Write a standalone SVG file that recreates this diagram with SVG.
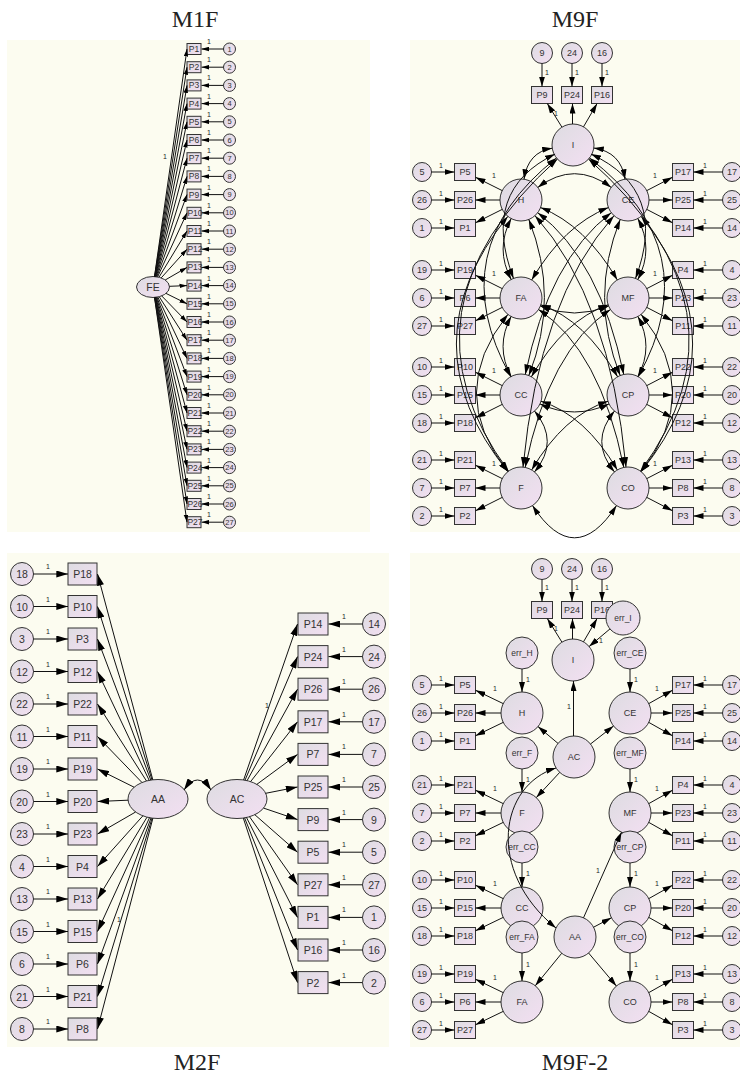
<svg xmlns="http://www.w3.org/2000/svg" width="740" height="1076" viewBox="0 0 740 1076">
<defs>
<linearGradient id="g" x1="0" y1="0" x2="1" y2="1"><stop offset="0" stop-color="#dddce1"/><stop offset="1" stop-color="#f3dff2"/></linearGradient>
<marker id="as" viewBox="0 0 10 6" refX="10" refY="3" markerWidth="7.5" markerHeight="5" markerUnits="userSpaceOnUse" orient="auto-start-reverse"><path d="M0,0L10,3L0,6z" fill="#000"/></marker>
<marker id="am" viewBox="0 0 10 6" refX="10" refY="3" markerWidth="10" markerHeight="6" markerUnits="userSpaceOnUse" orient="auto-start-reverse"><path d="M0,0L10,3L0,6z" fill="#000"/></marker>
<marker id="ab" viewBox="0 0 10 6" refX="10" refY="3" markerWidth="12" markerHeight="7" markerUnits="userSpaceOnUse" orient="auto-start-reverse"><path d="M0,0L10,3L0,6z" fill="#000"/></marker>
</defs>
<style>
.bg{fill:#fcfcf0}
.n{fill:url(#g);stroke:#333;stroke-width:1}
.t{font-family:"Liberation Sans",Arial,sans-serif;fill:#333;text-anchor:middle;dominant-baseline:central}
.f1{font-size:8.5px}.f1c{font-size:7.5px}.f9{font-size:9px}.fe{font-size:8.5px}.f2{font-size:10.5px}
.ttl{font-family:"Liberation Serif","Times New Roman",serif;font-size:24px;fill:#222;text-anchor:middle}
.o{font-family:"Liberation Sans",Arial,sans-serif;font-size:7px;fill:#222;text-anchor:middle}
.l{stroke:#111;stroke-width:1;fill:none}
.a1{marker-end:url(#as)}.a9{marker-end:url(#am)}.c9{marker-start:url(#am);marker-end:url(#am)}.a2{marker-end:url(#ab)}.c2{marker-start:url(#ab);marker-end:url(#ab)}
</style>
<g id="backgrounds">
<rect class="bg" x="7" y="40" width="363" height="492"/>
<rect class="bg" x="410" y="40" width="330" height="492"/>
<rect class="bg" x="7" y="553" width="382" height="494"/>
<rect class="bg" x="410" y="553" width="330" height="494"/>
</g>
<g id="titles">
<text class="ttl" x="195" y="27">M1F</text>
<text class="ttl" x="575" y="27">M9F</text>
<text class="ttl" x="197" y="1070">M2F</text>
<text class="ttl" x="575" y="1070">M9F-2</text>
</g>

<g id="m1-nodes">
<g id="m1-FE"><ellipse class="n" cx="153" cy="287" rx="16.5" ry="10.5"/><text class="t f2" x="153" y="287">FE</text></g>
<g id="m1-P1"><rect class="n" x="187" y="43.5" width="14" height="11"/><text class="t f1" x="194" y="49">P1</text></g>
<g id="m1-P2"><rect class="n" x="187" y="61.7" width="14" height="11"/><text class="t f1" x="194" y="67.2">P2</text></g>
<g id="m1-P3"><rect class="n" x="187" y="79.9" width="14" height="11"/><text class="t f1" x="194" y="85.4">P3</text></g>
<g id="m1-P4"><rect class="n" x="187" y="98.1" width="14" height="11"/><text class="t f1" x="194" y="103.6">P4</text></g>
<g id="m1-P5"><rect class="n" x="187" y="116.3" width="14" height="11"/><text class="t f1" x="194" y="121.8">P5</text></g>
<g id="m1-P6"><rect class="n" x="187" y="134.5" width="14" height="11"/><text class="t f1" x="194" y="140">P6</text></g>
<g id="m1-P7"><rect class="n" x="187" y="152.7" width="14" height="11"/><text class="t f1" x="194" y="158.2">P7</text></g>
<g id="m1-P8"><rect class="n" x="187" y="170.9" width="14" height="11"/><text class="t f1" x="194" y="176.4">P8</text></g>
<g id="m1-P9"><rect class="n" x="187" y="189.1" width="14" height="11"/><text class="t f1" x="194" y="194.6">P9</text></g>
<g id="m1-P10"><rect class="n" x="187" y="207.3" width="14" height="11"/><text class="t f1" x="195" y="212.8">P10</text></g>
<g id="m1-P11"><rect class="n" x="187" y="225.5" width="14" height="11"/><text class="t f1" x="195" y="231">P11</text></g>
<g id="m1-P12"><rect class="n" x="187" y="243.7" width="14" height="11"/><text class="t f1" x="195" y="249.2">P12</text></g>
<g id="m1-P13"><rect class="n" x="187" y="261.9" width="14" height="11"/><text class="t f1" x="195" y="267.4">P13</text></g>
<g id="m1-P14"><rect class="n" x="187" y="280.1" width="14" height="11"/><text class="t f1" x="195" y="285.6">P14</text></g>
<g id="m1-P15"><rect class="n" x="187" y="298.3" width="14" height="11"/><text class="t f1" x="195" y="303.8">P15</text></g>
<g id="m1-P16"><rect class="n" x="187" y="316.5" width="14" height="11"/><text class="t f1" x="195" y="322">P16</text></g>
<g id="m1-P17"><rect class="n" x="187" y="334.7" width="14" height="11"/><text class="t f1" x="195" y="340.2">P17</text></g>
<g id="m1-P18"><rect class="n" x="187" y="352.9" width="14" height="11"/><text class="t f1" x="195" y="358.4">P18</text></g>
<g id="m1-P19"><rect class="n" x="187" y="371.1" width="14" height="11"/><text class="t f1" x="195" y="376.6">P19</text></g>
<g id="m1-P20"><rect class="n" x="187" y="389.3" width="14" height="11"/><text class="t f1" x="195" y="394.8">P20</text></g>
<g id="m1-P21"><rect class="n" x="187" y="407.5" width="14" height="11"/><text class="t f1" x="195" y="413">P21</text></g>
<g id="m1-P22"><rect class="n" x="187" y="425.7" width="14" height="11"/><text class="t f1" x="195" y="431.2">P22</text></g>
<g id="m1-P23"><rect class="n" x="187" y="443.9" width="14" height="11"/><text class="t f1" x="195" y="449.4">P23</text></g>
<g id="m1-P24"><rect class="n" x="187" y="462.1" width="14" height="11"/><text class="t f1" x="195" y="467.6">P24</text></g>
<g id="m1-P25"><rect class="n" x="187" y="480.3" width="14" height="11"/><text class="t f1" x="195" y="485.8">P25</text></g>
<g id="m1-P26"><rect class="n" x="187" y="498.5" width="14" height="11"/><text class="t f1" x="195" y="504">P26</text></g>
<g id="m1-P27"><rect class="n" x="187" y="516.7" width="14" height="11"/><text class="t f1" x="195" y="522.2">P27</text></g>
<g id="m1-e1"><circle class="n" cx="229.5" cy="49" r="6"/><text class="t f1c" x="229.5" y="49">1</text></g>
<g id="m1-e2"><circle class="n" cx="229.5" cy="67.2" r="6"/><text class="t f1c" x="229.5" y="67.2">2</text></g>
<g id="m1-e3"><circle class="n" cx="229.5" cy="85.4" r="6"/><text class="t f1c" x="229.5" y="85.4">3</text></g>
<g id="m1-e4"><circle class="n" cx="229.5" cy="103.6" r="6"/><text class="t f1c" x="229.5" y="103.6">4</text></g>
<g id="m1-e5"><circle class="n" cx="229.5" cy="121.8" r="6"/><text class="t f1c" x="229.5" y="121.8">5</text></g>
<g id="m1-e6"><circle class="n" cx="229.5" cy="140" r="6"/><text class="t f1c" x="229.5" y="140">6</text></g>
<g id="m1-e7"><circle class="n" cx="229.5" cy="158.2" r="6"/><text class="t f1c" x="229.5" y="158.2">7</text></g>
<g id="m1-e8"><circle class="n" cx="229.5" cy="176.4" r="6"/><text class="t f1c" x="229.5" y="176.4">8</text></g>
<g id="m1-e9"><circle class="n" cx="229.5" cy="194.6" r="6"/><text class="t f1c" x="229.5" y="194.6">9</text></g>
<g id="m1-e10"><circle class="n" cx="229.5" cy="212.8" r="6"/><text class="t f1c" x="229.5" y="212.8">10</text></g>
<g id="m1-e11"><circle class="n" cx="229.5" cy="231" r="6"/><text class="t f1c" x="229.5" y="231">11</text></g>
<g id="m1-e12"><circle class="n" cx="229.5" cy="249.2" r="6"/><text class="t f1c" x="229.5" y="249.2">12</text></g>
<g id="m1-e13"><circle class="n" cx="229.5" cy="267.4" r="6"/><text class="t f1c" x="229.5" y="267.4">13</text></g>
<g id="m1-e14"><circle class="n" cx="229.5" cy="285.6" r="6"/><text class="t f1c" x="229.5" y="285.6">14</text></g>
<g id="m1-e15"><circle class="n" cx="229.5" cy="303.8" r="6"/><text class="t f1c" x="229.5" y="303.8">15</text></g>
<g id="m1-e16"><circle class="n" cx="229.5" cy="322" r="6"/><text class="t f1c" x="229.5" y="322">16</text></g>
<g id="m1-e17"><circle class="n" cx="229.5" cy="340.2" r="6"/><text class="t f1c" x="229.5" y="340.2">17</text></g>
<g id="m1-e18"><circle class="n" cx="229.5" cy="358.4" r="6"/><text class="t f1c" x="229.5" y="358.4">18</text></g>
<g id="m1-e19"><circle class="n" cx="229.5" cy="376.6" r="6"/><text class="t f1c" x="229.5" y="376.6">19</text></g>
<g id="m1-e20"><circle class="n" cx="229.5" cy="394.8" r="6"/><text class="t f1c" x="229.5" y="394.8">20</text></g>
<g id="m1-e21"><circle class="n" cx="229.5" cy="413" r="6"/><text class="t f1c" x="229.5" y="413">21</text></g>
<g id="m1-e22"><circle class="n" cx="229.5" cy="431.2" r="6"/><text class="t f1c" x="229.5" y="431.2">22</text></g>
<g id="m1-e23"><circle class="n" cx="229.5" cy="449.4" r="6"/><text class="t f1c" x="229.5" y="449.4">23</text></g>
<g id="m1-e24"><circle class="n" cx="229.5" cy="467.6" r="6"/><text class="t f1c" x="229.5" y="467.6">24</text></g>
<g id="m1-e25"><circle class="n" cx="229.5" cy="485.8" r="6"/><text class="t f1c" x="229.5" y="485.8">25</text></g>
<g id="m1-e26"><circle class="n" cx="229.5" cy="504" r="6"/><text class="t f1c" x="229.5" y="504">26</text></g>
<g id="m1-e27"><circle class="n" cx="229.5" cy="522.2" r="6"/><text class="t f1c" x="229.5" y="522.2">27</text></g>
</g>

<g id="m9-nodes">
<g id="m9-e9"><circle class="n" cx="542" cy="53" r="10.5"/><text class="t f9" x="542" y="53">9</text></g>
<g id="m9-e24"><circle class="n" cx="572" cy="53" r="10.5"/><text class="t f9" x="572" y="53">24</text></g>
<g id="m9-e16"><circle class="n" cx="602" cy="53" r="10.5"/><text class="t f9" x="602" y="53">16</text></g>
<g id="m9-P9"><rect class="n" x="531.5" y="86.5" width="21" height="17"/><text class="t f9" x="542" y="95">P9</text></g>
<g id="m9-P24"><rect class="n" x="561.5" y="86.5" width="21" height="17"/><text class="t f9" x="572" y="95">P24</text></g>
<g id="m9-P16"><rect class="n" x="591.5" y="86.5" width="21" height="17"/><text class="t f9" x="602" y="95">P16</text></g>
<g id="m9-I"><circle class="n" cx="573" cy="145" r="21"/><text class="t f9" x="573" y="145">I</text></g>
<g id="m9-H"><circle class="n" cx="521" cy="200" r="21"/><text class="t f9" x="521" y="200">H</text></g>
<g id="m9-CE"><circle class="n" cx="628" cy="200" r="21"/><text class="t f9" x="628" y="200">CE</text></g>
<g id="m9-FA"><circle class="n" cx="521" cy="298" r="21"/><text class="t f9" x="521" y="298">FA</text></g>
<g id="m9-MF"><circle class="n" cx="628" cy="298" r="21"/><text class="t f9" x="628" y="298">MF</text></g>
<g id="m9-CC"><circle class="n" cx="521" cy="395" r="21"/><text class="t f9" x="521" y="395">CC</text></g>
<g id="m9-CP"><circle class="n" cx="628" cy="395" r="21"/><text class="t f9" x="628" y="395">CP</text></g>
<g id="m9-F"><circle class="n" cx="521" cy="488" r="21"/><text class="t f9" x="521" y="488">F</text></g>
<g id="m9-CO"><circle class="n" cx="628" cy="488" r="21"/><text class="t f9" x="628" y="488">CO</text></g>
<g id="m9-P5"><rect class="n" x="454.5" y="163.5" width="21" height="17"/><text class="t f9" x="465" y="172">P5</text></g>
<g id="m9-P26"><rect class="n" x="454.5" y="191.5" width="21" height="17"/><text class="t f9" x="465" y="200">P26</text></g>
<g id="m9-P1"><rect class="n" x="454.5" y="219.5" width="21" height="17"/><text class="t f9" x="465" y="228">P1</text></g>
<g id="m9-P19"><rect class="n" x="454.5" y="261.5" width="21" height="17"/><text class="t f9" x="465" y="270">P19</text></g>
<g id="m9-P6"><rect class="n" x="454.5" y="289.5" width="21" height="17"/><text class="t f9" x="465" y="298">P6</text></g>
<g id="m9-P27"><rect class="n" x="454.5" y="317.5" width="21" height="17"/><text class="t f9" x="465" y="326">P27</text></g>
<g id="m9-P10"><rect class="n" x="454.5" y="358.5" width="21" height="17"/><text class="t f9" x="465" y="367">P10</text></g>
<g id="m9-P15"><rect class="n" x="454.5" y="386.5" width="21" height="17"/><text class="t f9" x="465" y="395">P15</text></g>
<g id="m9-P18"><rect class="n" x="454.5" y="414.5" width="21" height="17"/><text class="t f9" x="465" y="423">P18</text></g>
<g id="m9-P21"><rect class="n" x="454.5" y="451.5" width="21" height="17"/><text class="t f9" x="465" y="460">P21</text></g>
<g id="m9-P7"><rect class="n" x="454.5" y="479.5" width="21" height="17"/><text class="t f9" x="465" y="488">P7</text></g>
<g id="m9-P2"><rect class="n" x="454.5" y="507.5" width="21" height="17"/><text class="t f9" x="465" y="516">P2</text></g>
<g id="m9-P17"><rect class="n" x="672.5" y="163.5" width="21" height="17"/><text class="t f9" x="683" y="172">P17</text></g>
<g id="m9-P25"><rect class="n" x="672.5" y="191.5" width="21" height="17"/><text class="t f9" x="683" y="200">P25</text></g>
<g id="m9-P14"><rect class="n" x="672.5" y="219.5" width="21" height="17"/><text class="t f9" x="683" y="228">P14</text></g>
<g id="m9-P4"><rect class="n" x="672.5" y="261.5" width="21" height="17"/><text class="t f9" x="683" y="270">P4</text></g>
<g id="m9-P23"><rect class="n" x="672.5" y="289.5" width="21" height="17"/><text class="t f9" x="683" y="298">P23</text></g>
<g id="m9-P11"><rect class="n" x="672.5" y="317.5" width="21" height="17"/><text class="t f9" x="683" y="326">P11</text></g>
<g id="m9-P22"><rect class="n" x="672.5" y="358.5" width="21" height="17"/><text class="t f9" x="683" y="367">P22</text></g>
<g id="m9-P20"><rect class="n" x="672.5" y="386.5" width="21" height="17"/><text class="t f9" x="683" y="395">P20</text></g>
<g id="m9-P12"><rect class="n" x="672.5" y="414.5" width="21" height="17"/><text class="t f9" x="683" y="423">P12</text></g>
<g id="m9-P13"><rect class="n" x="672.5" y="451.5" width="21" height="17"/><text class="t f9" x="683" y="460">P13</text></g>
<g id="m9-P8"><rect class="n" x="672.5" y="479.5" width="21" height="17"/><text class="t f9" x="683" y="488">P8</text></g>
<g id="m9-P3"><rect class="n" x="672.5" y="507.5" width="21" height="17"/><text class="t f9" x="683" y="516">P3</text></g>
<g id="m9-e5"><circle class="n" cx="422" cy="172" r="9.5"/><text class="t f9" x="422" y="172">5</text></g>
<g id="m9-e26"><circle class="n" cx="422" cy="200" r="9.5"/><text class="t f9" x="422" y="200">26</text></g>
<g id="m9-e1"><circle class="n" cx="422" cy="228" r="9.5"/><text class="t f9" x="422" y="228">1</text></g>
<g id="m9-e19"><circle class="n" cx="422" cy="270" r="9.5"/><text class="t f9" x="422" y="270">19</text></g>
<g id="m9-e6"><circle class="n" cx="422" cy="298" r="9.5"/><text class="t f9" x="422" y="298">6</text></g>
<g id="m9-e27"><circle class="n" cx="422" cy="326" r="9.5"/><text class="t f9" x="422" y="326">27</text></g>
<g id="m9-e10"><circle class="n" cx="422" cy="367" r="9.5"/><text class="t f9" x="422" y="367">10</text></g>
<g id="m9-e15"><circle class="n" cx="422" cy="395" r="9.5"/><text class="t f9" x="422" y="395">15</text></g>
<g id="m9-e18"><circle class="n" cx="422" cy="423" r="9.5"/><text class="t f9" x="422" y="423">18</text></g>
<g id="m9-e21"><circle class="n" cx="422" cy="460" r="9.5"/><text class="t f9" x="422" y="460">21</text></g>
<g id="m9-e7"><circle class="n" cx="422" cy="488" r="9.5"/><text class="t f9" x="422" y="488">7</text></g>
<g id="m9-e2"><circle class="n" cx="422" cy="516" r="9.5"/><text class="t f9" x="422" y="516">2</text></g>
<g id="m9-e17"><circle class="n" cx="732" cy="172" r="9.5"/><text class="t f9" x="732" y="172">17</text></g>
<g id="m9-e25"><circle class="n" cx="732" cy="200" r="9.5"/><text class="t f9" x="732" y="200">25</text></g>
<g id="m9-e14"><circle class="n" cx="732" cy="228" r="9.5"/><text class="t f9" x="732" y="228">14</text></g>
<g id="m9-e4"><circle class="n" cx="732" cy="270" r="9.5"/><text class="t f9" x="732" y="270">4</text></g>
<g id="m9-e23"><circle class="n" cx="732" cy="298" r="9.5"/><text class="t f9" x="732" y="298">23</text></g>
<g id="m9-e11"><circle class="n" cx="732" cy="326" r="9.5"/><text class="t f9" x="732" y="326">11</text></g>
<g id="m9-e22"><circle class="n" cx="732" cy="367" r="9.5"/><text class="t f9" x="732" y="367">22</text></g>
<g id="m9-e20"><circle class="n" cx="732" cy="395" r="9.5"/><text class="t f9" x="732" y="395">20</text></g>
<g id="m9-e12"><circle class="n" cx="732" cy="423" r="9.5"/><text class="t f9" x="732" y="423">12</text></g>
<g id="m9-e13"><circle class="n" cx="732" cy="460" r="9.5"/><text class="t f9" x="732" y="460">13</text></g>
<g id="m9-e8"><circle class="n" cx="732" cy="488" r="9.5"/><text class="t f9" x="732" y="488">8</text></g>
<g id="m9-e3"><circle class="n" cx="732" cy="516" r="9.5"/><text class="t f9" x="732" y="516">3</text></g>
</g>

<g id="m2-nodes">
<g id="m2-AA"><ellipse class="n" cx="158" cy="799" rx="30" ry="19.5"/><text class="t f2" x="158" y="799">AA</text></g>
<g id="m2-AC"><ellipse class="n" cx="237" cy="799" rx="30" ry="19.5"/><text class="t f2" x="237" y="799">AC</text></g>
<g id="m2-P18"><rect class="n" x="68" y="563" width="29" height="22"/><text class="t f2" x="82.5" y="574">P18</text></g>
<g id="m2-P10"><rect class="n" x="68" y="595.5" width="29" height="22"/><text class="t f2" x="82.5" y="606.5">P10</text></g>
<g id="m2-P3"><rect class="n" x="68" y="628" width="29" height="22"/><text class="t f2" x="82.5" y="639">P3</text></g>
<g id="m2-P12"><rect class="n" x="68" y="660.5" width="29" height="22"/><text class="t f2" x="82.5" y="671.5">P12</text></g>
<g id="m2-P22"><rect class="n" x="68" y="693" width="29" height="22"/><text class="t f2" x="82.5" y="704">P22</text></g>
<g id="m2-P11"><rect class="n" x="68" y="725.5" width="29" height="22"/><text class="t f2" x="82.5" y="736.5">P11</text></g>
<g id="m2-P19"><rect class="n" x="68" y="758" width="29" height="22"/><text class="t f2" x="82.5" y="769">P19</text></g>
<g id="m2-P20"><rect class="n" x="68" y="790.5" width="29" height="22"/><text class="t f2" x="82.5" y="801.5">P20</text></g>
<g id="m2-P23"><rect class="n" x="68" y="823" width="29" height="22"/><text class="t f2" x="82.5" y="834">P23</text></g>
<g id="m2-P4"><rect class="n" x="68" y="855.5" width="29" height="22"/><text class="t f2" x="82.5" y="866.5">P4</text></g>
<g id="m2-P13"><rect class="n" x="68" y="888" width="29" height="22"/><text class="t f2" x="82.5" y="899">P13</text></g>
<g id="m2-P15"><rect class="n" x="68" y="920.5" width="29" height="22"/><text class="t f2" x="82.5" y="931.5">P15</text></g>
<g id="m2-P6"><rect class="n" x="68" y="953" width="29" height="22"/><text class="t f2" x="82.5" y="964">P6</text></g>
<g id="m2-P21"><rect class="n" x="68" y="985.5" width="29" height="22"/><text class="t f2" x="82.5" y="996.5">P21</text></g>
<g id="m2-P8"><rect class="n" x="68" y="1018" width="29" height="22"/><text class="t f2" x="82.5" y="1029">P8</text></g>
<g id="m2-e18"><circle class="n" cx="22" cy="574" r="11.5"/><text class="t f2" x="22" y="574">18</text></g>
<g id="m2-e10"><circle class="n" cx="22" cy="606.5" r="11.5"/><text class="t f2" x="22" y="606.5">10</text></g>
<g id="m2-e3"><circle class="n" cx="22" cy="639" r="11.5"/><text class="t f2" x="22" y="639">3</text></g>
<g id="m2-e12"><circle class="n" cx="22" cy="671.5" r="11.5"/><text class="t f2" x="22" y="671.5">12</text></g>
<g id="m2-e22"><circle class="n" cx="22" cy="704" r="11.5"/><text class="t f2" x="22" y="704">22</text></g>
<g id="m2-e11"><circle class="n" cx="22" cy="736.5" r="11.5"/><text class="t f2" x="22" y="736.5">11</text></g>
<g id="m2-e19"><circle class="n" cx="22" cy="769" r="11.5"/><text class="t f2" x="22" y="769">19</text></g>
<g id="m2-e20"><circle class="n" cx="22" cy="801.5" r="11.5"/><text class="t f2" x="22" y="801.5">20</text></g>
<g id="m2-e23"><circle class="n" cx="22" cy="834" r="11.5"/><text class="t f2" x="22" y="834">23</text></g>
<g id="m2-e4"><circle class="n" cx="22" cy="866.5" r="11.5"/><text class="t f2" x="22" y="866.5">4</text></g>
<g id="m2-e13"><circle class="n" cx="22" cy="899" r="11.5"/><text class="t f2" x="22" y="899">13</text></g>
<g id="m2-e15"><circle class="n" cx="22" cy="931.5" r="11.5"/><text class="t f2" x="22" y="931.5">15</text></g>
<g id="m2-e6"><circle class="n" cx="22" cy="964" r="11.5"/><text class="t f2" x="22" y="964">6</text></g>
<g id="m2-e21"><circle class="n" cx="22" cy="996.5" r="11.5"/><text class="t f2" x="22" y="996.5">21</text></g>
<g id="m2-e8"><circle class="n" cx="22" cy="1029" r="11.5"/><text class="t f2" x="22" y="1029">8</text></g>
<g id="m2-P14"><rect class="n" x="298" y="613" width="30" height="22"/><text class="t f2" x="313" y="624">P14</text></g>
<g id="m2-P24"><rect class="n" x="298" y="645.6" width="30" height="22"/><text class="t f2" x="313" y="656.6">P24</text></g>
<g id="m2-P26"><rect class="n" x="298" y="678.2" width="30" height="22"/><text class="t f2" x="313" y="689.2">P26</text></g>
<g id="m2-P17"><rect class="n" x="298" y="710.8" width="30" height="22"/><text class="t f2" x="313" y="721.8">P17</text></g>
<g id="m2-P7"><rect class="n" x="298" y="743.4" width="30" height="22"/><text class="t f2" x="313" y="754.4">P7</text></g>
<g id="m2-P25"><rect class="n" x="298" y="776" width="30" height="22"/><text class="t f2" x="313" y="787">P25</text></g>
<g id="m2-P9"><rect class="n" x="298" y="808.6" width="30" height="22"/><text class="t f2" x="313" y="819.6">P9</text></g>
<g id="m2-P5"><rect class="n" x="298" y="841.2" width="30" height="22"/><text class="t f2" x="313" y="852.2">P5</text></g>
<g id="m2-P27"><rect class="n" x="298" y="873.8" width="30" height="22"/><text class="t f2" x="313" y="884.8">P27</text></g>
<g id="m2-P1"><rect class="n" x="298" y="906.4" width="30" height="22"/><text class="t f2" x="313" y="917.4">P1</text></g>
<g id="m2-P16"><rect class="n" x="298" y="939" width="30" height="22"/><text class="t f2" x="313" y="950">P16</text></g>
<g id="m2-P2"><rect class="n" x="298" y="971.6" width="30" height="22"/><text class="t f2" x="313" y="982.6">P2</text></g>
<g id="m2-e14"><circle class="n" cx="374" cy="624" r="11.5"/><text class="t f2" x="374" y="624">14</text></g>
<g id="m2-e24"><circle class="n" cx="374" cy="656.6" r="11.5"/><text class="t f2" x="374" y="656.6">24</text></g>
<g id="m2-e26"><circle class="n" cx="374" cy="689.2" r="11.5"/><text class="t f2" x="374" y="689.2">26</text></g>
<g id="m2-e17"><circle class="n" cx="374" cy="721.8" r="11.5"/><text class="t f2" x="374" y="721.8">17</text></g>
<g id="m2-e7"><circle class="n" cx="374" cy="754.4" r="11.5"/><text class="t f2" x="374" y="754.4">7</text></g>
<g id="m2-e25"><circle class="n" cx="374" cy="787" r="11.5"/><text class="t f2" x="374" y="787">25</text></g>
<g id="m2-e9"><circle class="n" cx="374" cy="819.6" r="11.5"/><text class="t f2" x="374" y="819.6">9</text></g>
<g id="m2-e5"><circle class="n" cx="374" cy="852.2" r="11.5"/><text class="t f2" x="374" y="852.2">5</text></g>
<g id="m2-e27"><circle class="n" cx="374" cy="884.8" r="11.5"/><text class="t f2" x="374" y="884.8">27</text></g>
<g id="m2-e1"><circle class="n" cx="374" cy="917.4" r="11.5"/><text class="t f2" x="374" y="917.4">1</text></g>
<g id="m2-e16"><circle class="n" cx="374" cy="950" r="11.5"/><text class="t f2" x="374" y="950">16</text></g>
<g id="m2-e2"><circle class="n" cx="374" cy="982.6" r="11.5"/><text class="t f2" x="374" y="982.6">2</text></g>
</g>

<g id="m92-nodes">
<g id="m92-e9"><circle class="n" cx="542" cy="569" r="10.5"/><text class="t f9" x="542" y="569">9</text></g>
<g id="m92-e24"><circle class="n" cx="572" cy="569" r="10.5"/><text class="t f9" x="572" y="569">24</text></g>
<g id="m92-e16"><circle class="n" cx="602" cy="569" r="10.5"/><text class="t f9" x="602" y="569">16</text></g>
<g id="m92-P9"><rect class="n" x="531.5" y="601.5" width="21" height="17"/><text class="t f9" x="542" y="610">P9</text></g>
<g id="m92-P24"><rect class="n" x="561.5" y="601.5" width="21" height="17"/><text class="t f9" x="572" y="610">P24</text></g>
<g id="m92-P16"><rect class="n" x="591.5" y="601.5" width="21" height="17"/><text class="t f9" x="602" y="610">P16</text></g>
<g id="m92-errI"><circle class="n" cx="623" cy="618" r="17"/><text class="t fe" x="623" y="618">err_I</text></g>
<g id="m92-I"><circle class="n" cx="573" cy="660" r="21"/><text class="t f9" x="573" y="660">I</text></g>
<g id="m92-H"><circle class="n" cx="522" cy="713" r="21"/><text class="t f9" x="522" y="713">H</text></g>
<g id="m92-CE"><circle class="n" cx="630" cy="713" r="21"/><text class="t f9" x="630" y="713">CE</text></g>
<g id="m92-AC"><circle class="n" cx="574" cy="757" r="21"/><text class="t f9" x="574" y="757">AC</text></g>
<g id="m92-F"><circle class="n" cx="522" cy="813" r="21"/><text class="t f9" x="522" y="813">F</text></g>
<g id="m92-MF"><circle class="n" cx="630" cy="813" r="21"/><text class="t f9" x="630" y="813">MF</text></g>
<g id="m92-CC"><circle class="n" cx="522" cy="908" r="21"/><text class="t f9" x="522" y="908">CC</text></g>
<g id="m92-CP"><circle class="n" cx="630" cy="908" r="21"/><text class="t f9" x="630" y="908">CP</text></g>
<g id="m92-AA"><circle class="n" cx="575" cy="937" r="21"/><text class="t f9" x="575" y="937">AA</text></g>
<g id="m92-FA"><circle class="n" cx="522" cy="1002" r="21"/><text class="t f9" x="522" y="1002">FA</text></g>
<g id="m92-CO"><circle class="n" cx="630" cy="1002" r="21"/><text class="t f9" x="630" y="1002">CO</text></g>
<g id="m92-errH"><circle class="n" cx="522" cy="653" r="16"/><text class="t fe" x="522" y="653">err_H</text></g>
<g id="m92-errCE"><circle class="n" cx="630" cy="653" r="16"/><text class="t fe" x="630" y="653">err_CE</text></g>
<g id="m92-errF"><circle class="n" cx="522" cy="753" r="16"/><text class="t fe" x="522" y="753">err_F</text></g>
<g id="m92-errMF"><circle class="n" cx="630" cy="753" r="16"/><text class="t fe" x="630" y="753">err_MF</text></g>
<g id="m92-errCC"><circle class="n" cx="522" cy="847" r="16"/><text class="t fe" x="522" y="847">err_CC</text></g>
<g id="m92-errCP"><circle class="n" cx="630" cy="847" r="16"/><text class="t fe" x="630" y="847">err_CP</text></g>
<g id="m92-errFA"><circle class="n" cx="522" cy="937" r="16"/><text class="t fe" x="522" y="937">err_FA</text></g>
<g id="m92-errCO"><circle class="n" cx="630" cy="937" r="16"/><text class="t fe" x="630" y="937">err_CO</text></g>
<g id="m92-P5"><rect class="n" x="454.5" y="676.5" width="21" height="17"/><text class="t f9" x="465" y="685">P5</text></g>
<g id="m92-P26"><rect class="n" x="454.5" y="704.5" width="21" height="17"/><text class="t f9" x="465" y="713">P26</text></g>
<g id="m92-P1"><rect class="n" x="454.5" y="732.5" width="21" height="17"/><text class="t f9" x="465" y="741">P1</text></g>
<g id="m92-P21"><rect class="n" x="454.5" y="776.5" width="21" height="17"/><text class="t f9" x="465" y="785">P21</text></g>
<g id="m92-P7"><rect class="n" x="454.5" y="804.5" width="21" height="17"/><text class="t f9" x="465" y="813">P7</text></g>
<g id="m92-P2"><rect class="n" x="454.5" y="832.5" width="21" height="17"/><text class="t f9" x="465" y="841">P2</text></g>
<g id="m92-P10"><rect class="n" x="454.5" y="871.5" width="21" height="17"/><text class="t f9" x="465" y="880">P10</text></g>
<g id="m92-P15"><rect class="n" x="454.5" y="899.5" width="21" height="17"/><text class="t f9" x="465" y="908">P15</text></g>
<g id="m92-P18"><rect class="n" x="454.5" y="927.5" width="21" height="17"/><text class="t f9" x="465" y="936">P18</text></g>
<g id="m92-P19"><rect class="n" x="454.5" y="965.5" width="21" height="17"/><text class="t f9" x="465" y="974">P19</text></g>
<g id="m92-P6"><rect class="n" x="454.5" y="993.5" width="21" height="17"/><text class="t f9" x="465" y="1002">P6</text></g>
<g id="m92-P27"><rect class="n" x="454.5" y="1021.5" width="21" height="17"/><text class="t f9" x="465" y="1030">P27</text></g>
<g id="m92-P17"><rect class="n" x="672.5" y="676.5" width="21" height="17"/><text class="t f9" x="683" y="685">P17</text></g>
<g id="m92-P25"><rect class="n" x="672.5" y="704.5" width="21" height="17"/><text class="t f9" x="683" y="713">P25</text></g>
<g id="m92-P14"><rect class="n" x="672.5" y="732.5" width="21" height="17"/><text class="t f9" x="683" y="741">P14</text></g>
<g id="m92-P4"><rect class="n" x="672.5" y="776.5" width="21" height="17"/><text class="t f9" x="683" y="785">P4</text></g>
<g id="m92-P23"><rect class="n" x="672.5" y="804.5" width="21" height="17"/><text class="t f9" x="683" y="813">P23</text></g>
<g id="m92-P11"><rect class="n" x="672.5" y="832.5" width="21" height="17"/><text class="t f9" x="683" y="841">P11</text></g>
<g id="m92-P22"><rect class="n" x="672.5" y="871.5" width="21" height="17"/><text class="t f9" x="683" y="880">P22</text></g>
<g id="m92-P20"><rect class="n" x="672.5" y="899.5" width="21" height="17"/><text class="t f9" x="683" y="908">P20</text></g>
<g id="m92-P12"><rect class="n" x="672.5" y="927.5" width="21" height="17"/><text class="t f9" x="683" y="936">P12</text></g>
<g id="m92-P13"><rect class="n" x="672.5" y="965.5" width="21" height="17"/><text class="t f9" x="683" y="974">P13</text></g>
<g id="m92-P8"><rect class="n" x="672.5" y="993.5" width="21" height="17"/><text class="t f9" x="683" y="1002">P8</text></g>
<g id="m92-P3"><rect class="n" x="672.5" y="1021.5" width="21" height="17"/><text class="t f9" x="683" y="1030">P3</text></g>
<g id="m92-e5"><circle class="n" cx="422" cy="685" r="9.5"/><text class="t f9" x="422" y="685">5</text></g>
<g id="m92-e26"><circle class="n" cx="422" cy="713" r="9.5"/><text class="t f9" x="422" y="713">26</text></g>
<g id="m92-e1"><circle class="n" cx="422" cy="741" r="9.5"/><text class="t f9" x="422" y="741">1</text></g>
<g id="m92-e21"><circle class="n" cx="422" cy="785" r="9.5"/><text class="t f9" x="422" y="785">21</text></g>
<g id="m92-e7"><circle class="n" cx="422" cy="813" r="9.5"/><text class="t f9" x="422" y="813">7</text></g>
<g id="m92-e2"><circle class="n" cx="422" cy="841" r="9.5"/><text class="t f9" x="422" y="841">2</text></g>
<g id="m92-e10"><circle class="n" cx="422" cy="880" r="9.5"/><text class="t f9" x="422" y="880">10</text></g>
<g id="m92-e15"><circle class="n" cx="422" cy="908" r="9.5"/><text class="t f9" x="422" y="908">15</text></g>
<g id="m92-e18"><circle class="n" cx="422" cy="936" r="9.5"/><text class="t f9" x="422" y="936">18</text></g>
<g id="m92-e19"><circle class="n" cx="422" cy="974" r="9.5"/><text class="t f9" x="422" y="974">19</text></g>
<g id="m92-e6"><circle class="n" cx="422" cy="1002" r="9.5"/><text class="t f9" x="422" y="1002">6</text></g>
<g id="m92-e27"><circle class="n" cx="422" cy="1030" r="9.5"/><text class="t f9" x="422" y="1030">27</text></g>
<g id="m92-e17"><circle class="n" cx="732" cy="685" r="9.5"/><text class="t f9" x="732" y="685">17</text></g>
<g id="m92-e25"><circle class="n" cx="732" cy="713" r="9.5"/><text class="t f9" x="732" y="713">25</text></g>
<g id="m92-e14"><circle class="n" cx="732" cy="741" r="9.5"/><text class="t f9" x="732" y="741">14</text></g>
<g id="m92-e4"><circle class="n" cx="732" cy="785" r="9.5"/><text class="t f9" x="732" y="785">4</text></g>
<g id="m92-e23"><circle class="n" cx="732" cy="813" r="9.5"/><text class="t f9" x="732" y="813">23</text></g>
<g id="m92-e11"><circle class="n" cx="732" cy="841" r="9.5"/><text class="t f9" x="732" y="841">11</text></g>
<g id="m92-e22"><circle class="n" cx="732" cy="880" r="9.5"/><text class="t f9" x="732" y="880">22</text></g>
<g id="m92-e20"><circle class="n" cx="732" cy="908" r="9.5"/><text class="t f9" x="732" y="908">20</text></g>
<g id="m92-e12"><circle class="n" cx="732" cy="936" r="9.5"/><text class="t f9" x="732" y="936">12</text></g>
<g id="m92-e13"><circle class="n" cx="732" cy="974" r="9.5"/><text class="t f9" x="732" y="974">13</text></g>
<g id="m92-e8"><circle class="n" cx="732" cy="1002" r="9.5"/><text class="t f9" x="732" y="1002">8</text></g>
<g id="m92-e3"><circle class="n" cx="732" cy="1030" r="9.5"/><text class="t f9" x="732" y="1030">3</text></g>
</g>

<g id="connectors" class="l">
<g class="a1">
<path d="M154.5,276.5L187,49"/><path d="M154.6,276.6L187,67.2"/><path d="M154.8,276.6L187,85.4"/><path d="M154.9,276.6L187,103.6"/><path d="M155.1,276.6L187,121.8"/><path d="M155.4,276.6L187,140"/><path d="M155.7,276.7L187,158.2"/><path d="M156.2,276.7L187,176.4"/><path d="M156.8,276.8L187,194.6"/><path d="M157.6,276.9L187,212.8"/><path d="M159,277.2L187,231"/><path d="M161.2,277.9L187,249.2"/><path d="M165.2,280L187,267.4"/><path d="M169.5,286.3L187,285.6"/><path d="M166,293.4L187,303.8"/><path d="M161.7,295.9L187,322"/><path d="M159.2,296.7L187,340.2"/><path d="M157.8,297.1L187,358.4"/><path d="M156.9,297.2L187,376.6"/><path d="M156.3,297.3L187,394.8"/><path d="M155.8,297.4L187,413"/><path d="M155.5,297.4L187,431.2"/><path d="M155.2,297.4L187,449.4"/><path d="M155,297.4L187,467.6"/><path d="M154.8,297.4L187,485.8"/><path d="M154.6,297.5L187,504"/><path d="M154.5,297.5L187,522.2"/>
<path d="M223.5,49H201.5"/><path d="M223.5,67.2H201.5"/><path d="M223.5,85.4H201.5"/><path d="M223.5,103.6H201.5"/><path d="M223.5,121.8H201.5"/><path d="M223.5,140H201.5"/><path d="M223.5,158.2H201.5"/><path d="M223.5,176.4H201.5"/><path d="M223.5,194.6H201.5"/><path d="M223.5,212.8H201.5"/><path d="M223.5,231H201.5"/><path d="M223.5,249.2H201.5"/><path d="M223.5,267.4H201.5"/><path d="M223.5,285.6H201.5"/><path d="M223.5,303.8H201.5"/><path d="M223.5,322H201.5"/><path d="M223.5,340.2H201.5"/><path d="M223.5,358.4H201.5"/><path d="M223.5,376.6H201.5"/><path d="M223.5,394.8H201.5"/><path d="M223.5,413H201.5"/><path d="M223.5,431.2H201.5"/><path d="M223.5,449.4H201.5"/><path d="M223.5,467.6H201.5"/><path d="M223.5,485.8H201.5"/><path d="M223.5,504H201.5"/><path d="M223.5,522.2H201.5"/>
</g>
<g class="a9">
<path d="M542,63.5V86.5"/><path d="M572,63.5V86.5"/><path d="M602,63.5V86.5"/><path d="M561.9,127.1L547.3,103.5"/><path d="M572.5,124V103.5"/><path d="M583.5,126.8L597.1,103.5"/>
<path d="M502.2,190.6L475.5,177.25"/><path d="M500,200H475.5"/><path d="M502.2,209.4L475.5,222.75"/><path d="M502.2,288.6L475.5,275.25"/><path d="M500,298H475.5"/><path d="M502.2,307.4L475.5,320.75"/><path d="M502.2,385.6L475.5,372.25"/><path d="M500,395H475.5"/><path d="M502.2,404.4L475.5,417.75"/><path d="M502.2,478.6L475.5,465.25"/><path d="M500,488H475.5"/><path d="M502.2,497.4L475.5,510.75"/>
<path d="M646.8,190.6L672.5,177.25"/><path d="M649,200H672.5"/><path d="M646.8,209.4L672.5,222.75"/><path d="M646.8,288.6L672.5,275.25"/><path d="M649,298H672.5"/><path d="M646.8,307.4L672.5,320.75"/><path d="M646.8,385.6L672.5,372.25"/><path d="M649,395H672.5"/><path d="M646.8,404.4L672.5,417.75"/><path d="M646.8,478.6L672.5,465.25"/><path d="M649,488H672.5"/><path d="M646.8,497.4L672.5,510.75"/>
<path d="M431.5,172H454.5"/><path d="M431.5,200H454.5"/><path d="M431.5,228H454.5"/><path d="M431.5,270H454.5"/><path d="M431.5,298H454.5"/><path d="M431.5,326H454.5"/><path d="M431.5,367H454.5"/><path d="M431.5,395H454.5"/><path d="M431.5,423H454.5"/><path d="M431.5,460H454.5"/><path d="M431.5,488H454.5"/><path d="M431.5,516H454.5"/>
<path d="M722.5,172H693.5"/><path d="M722.5,200H693.5"/><path d="M722.5,228H693.5"/><path d="M722.5,270H693.5"/><path d="M722.5,298H693.5"/><path d="M722.5,326H693.5"/><path d="M722.5,367H693.5"/><path d="M722.5,395H693.5"/><path d="M722.5,423H693.5"/><path d="M722.5,460H693.5"/><path d="M722.5,488H693.5"/><path d="M722.5,516H693.5"/>
</g>
<g class="c9">
<path d="M511.2,218.5Q495,249 511.2,279.5"/>
<path d="M528.8,219.5Q560,297.5 528.8,375.5"/>
<path d="M507.8,216.4Q405,344 507.8,471.6"/>
<path d="M511.1,316.5Q495,346.5 511.1,376.5"/>
<path d="M507.9,314.4Q445,393 507.9,471.6"/>
<path d="M534.5,411.1Q560,441.5 534.5,471.9"/>
<path d="M637.8,218.5Q654,249 637.8,279.5"/>
<path d="M620.2,219.5Q589,297.5 620.2,375.5"/>
<path d="M641.2,216.4Q744,344 641.2,471.6"/>
<path d="M637.9,316.5Q654,346.5 637.9,376.5"/>
<path d="M641.1,314.4Q704,393 641.1,471.6"/>
<path d="M614.5,411.1Q589,441.5 614.5,471.9"/>
<path d="M552.2,148.2Q528,152 524,179.2"/>
<path d="M593.8,148Q621,152 625,179.2"/>
<path d="M555.1,154.1Q480,190 513.5,278.4"/>
<path d="M556.5,158Q440,250 510.8,376.7"/>
<path d="M557.4,159.1Q390,310 508.5,471.1"/>
<path d="M591,154.1Q669,190 635.5,278.4"/>
<path d="M589.5,158Q709,250 638.2,376.7"/>
<path d="M588.6,159.1Q759,310 640.5,471.1"/>
<path d="M537.8,187.4Q574.5,160 611.2,187.4"/>
<path d="M540.4,306Q574.5,320 608.6,306"/>
<path d="M540,403.9Q574.5,420 609,403.9"/>
<path d="M532.5,505.6Q574.5,570 616.5,505.6"/>
<path d="M540.6,207.6Q585,225 617.3,279.9"/>
<path d="M537.7,212.7Q600,260 623.7,374.4"/>
<path d="M535,215.7Q610,300 626,467.1"/>
<path d="M608.4,207.6Q564,225 531.7,279.9"/>
<path d="M611.3,212.7Q549,260 525.3,374.4"/>
<path d="M614,215.7Q539,300 523,467.1"/>
<path d="M540.8,304.8Q585,320 617.6,376.8"/>
<path d="M538.5,309.5Q600,350 623.8,467.4"/>
<path d="M608.2,304.8Q564,320 531.4,376.8"/>
<path d="M610.5,309.5Q549,350 525.2,467.4"/>
<path d="M541,401.3Q585,415 617.3,469.9"/>
<path d="M608,401.3Q564,415 531.7,469.9"/>
</g>
<g class="a2">
<path d="M33.5,574H68"/><path d="M33.5,606.5H68"/><path d="M33.5,639H68"/><path d="M33.5,671.5H68"/><path d="M33.5,704H68"/><path d="M33.5,736.5H68"/><path d="M33.5,769H68"/><path d="M33.5,801.5H68"/><path d="M33.5,834H68"/><path d="M33.5,866.5H68"/><path d="M33.5,899H68"/><path d="M33.5,931.5H68"/><path d="M33.5,964H68"/><path d="M33.5,996.5H68"/><path d="M33.5,1029H68"/>
<path d="M152.8,779.8L97.5,574"/><path d="M152,779.9L97.5,606.5"/><path d="M150.8,780.1L97.5,639"/><path d="M149.2,780.4L97.5,671.5"/><path d="M146.5,781L97.5,704"/><path d="M142,782.5L97.5,736.5"/><path d="M134.1,787.2L97.5,769"/><path d="M128.1,800.2L97.5,801.5"/><path d="M135.6,812L97.5,834"/><path d="M142.9,815.8L97.5,866.5"/><path d="M147,817.2L97.5,899"/><path d="M149.5,817.7L97.5,931.5"/><path d="M151,818L97.5,964"/><path d="M152.1,818.1L97.5,996.5"/><path d="M152.9,818.2L97.5,1029"/>
<path d="M362.5,624H328.5"/><path d="M362.5,656.6H328.5"/><path d="M362.5,689.2H328.5"/><path d="M362.5,721.8H328.5"/><path d="M362.5,754.4H328.5"/><path d="M362.5,787H328.5"/><path d="M362.5,819.6H328.5"/><path d="M362.5,852.2H328.5"/><path d="M362.5,884.8H328.5"/><path d="M362.5,917.4H328.5"/><path d="M362.5,950H328.5"/><path d="M362.5,982.6H328.5"/>
<path d="M243.6,780L297.5,624"/><path d="M245,780.2L297.5,656.6"/><path d="M247.1,780.6L297.5,689.2"/><path d="M250.6,781.6L297.5,721.8"/><path d="M256.8,784.4L297.5,754.4"/><path d="M265.7,793.3L297.5,787"/><path d="M263.6,808.1L297.5,819.6"/><path d="M254.8,814.7L297.5,852.2"/><path d="M249.5,816.7L297.5,884.8"/><path d="M246.5,817.5L297.5,917.4"/><path d="M244.6,817.9L297.5,950"/><path d="M243.3,818.1L297.5,982.6"/>
</g>
<path class="c2" d="M184,790Q197.5,770 211,790"/>
<g class="a9">
<path d="M542,579.5V601.5"/><path d="M572,579.5V601.5"/><path d="M602,579.5V601.5"/><path d="M561.9,642.1L547.3,618.5"/><path d="M572.5,639V618.5"/><path d="M583.5,641.8L597.1,618.5"/><path d="M610,628.9L589.1,646.5"/>
<path d="M573.5,736V681"/><path d="M558,743.4L538,726.6"/><path d="M590.5,744L613.5,726"/><path d="M559.7,772.4L536.3,797.6"/><path d="M583.5,917.8L621.5,832.2"/><path d="M593.6,927.2L611.4,917.8"/><path d="M561.7,953.3L535.3,985.7"/><path d="M588.6,953L616.4,986"/>
<path d="M522,669V692"/><path d="M630,669V692"/><path d="M522,769V792"/><path d="M630,769V792"/><path d="M522,863V887"/><path d="M630,863V887"/><path d="M522,953V981"/><path d="M630,953V981"/>
<path d="M503.2,703.6L475.5,690.25"/><path d="M501,713H475.5"/><path d="M503.2,722.4L475.5,735.75"/><path d="M503.2,803.6L475.5,790.25"/><path d="M501,813H475.5"/><path d="M503.2,822.4L475.5,835.75"/><path d="M503.2,898.6L475.5,885.25"/><path d="M501,908H475.5"/><path d="M503.2,917.4L475.5,930.75"/><path d="M503.2,992.6L475.5,979.25"/><path d="M501,1002H475.5"/><path d="M503.2,1011.4L475.5,1024.75"/>
<path d="M648.8,703.6L672.5,690.25"/><path d="M651,713H672.5"/><path d="M648.8,722.4L672.5,735.75"/><path d="M648.8,803.6L672.5,790.25"/><path d="M651,813H672.5"/><path d="M648.8,822.4L672.5,835.75"/><path d="M648.8,898.6L672.5,885.25"/><path d="M651,908H672.5"/><path d="M648.8,917.4L672.5,930.75"/><path d="M648.8,992.6L672.5,979.25"/><path d="M651,1002H672.5"/><path d="M648.8,1011.4L672.5,1024.75"/>
<path d="M431.5,685H454.5"/><path d="M431.5,713H454.5"/><path d="M431.5,741H454.5"/><path d="M431.5,785H454.5"/><path d="M431.5,813H454.5"/><path d="M431.5,841H454.5"/><path d="M431.5,880H454.5"/><path d="M431.5,908H454.5"/><path d="M431.5,936H454.5"/><path d="M431.5,974H454.5"/><path d="M431.5,1002H454.5"/><path d="M431.5,1030H454.5"/>
<path d="M722.5,685H693.5"/><path d="M722.5,713H693.5"/><path d="M722.5,741H693.5"/><path d="M722.5,785H693.5"/><path d="M722.5,813H693.5"/><path d="M722.5,841H693.5"/><path d="M722.5,880H693.5"/><path d="M722.5,908H693.5"/><path d="M722.5,936H693.5"/><path d="M722.5,974H693.5"/><path d="M722.5,1002H693.5"/><path d="M722.5,1030H693.5"/>
</g>
<path class="c9" d="M556,768C500,785 485,870 556,928"/>
</g>

<g id="labels">
<g id="m1-labels">
<text class="o" x="165" y="159">1</text>
<text class="o" x="209" y="44">1</text><text class="o" x="209" y="62.2">1</text><text class="o" x="209" y="80.4">1</text><text class="o" x="209" y="98.6">1</text><text class="o" x="209" y="116.8">1</text><text class="o" x="209" y="135">1</text><text class="o" x="209" y="153.2">1</text><text class="o" x="209" y="171.4">1</text><text class="o" x="209" y="189.6">1</text><text class="o" x="209" y="207.8">1</text><text class="o" x="209" y="226">1</text><text class="o" x="209" y="244.2">1</text><text class="o" x="209" y="262.4">1</text><text class="o" x="209" y="280.6">1</text><text class="o" x="209" y="298.8">1</text><text class="o" x="209" y="317">1</text><text class="o" x="209" y="335.2">1</text><text class="o" x="209" y="353.4">1</text><text class="o" x="209" y="371.6">1</text><text class="o" x="209" y="389.8">1</text><text class="o" x="209" y="408">1</text><text class="o" x="209" y="426.2">1</text><text class="o" x="209" y="444.4">1</text><text class="o" x="209" y="462.6">1</text><text class="o" x="209" y="480.8">1</text><text class="o" x="209" y="499">1</text><text class="o" x="209" y="517.2">1</text>
</g>
<g id="m9-labels">
<text class="o" x="547" y="75">1</text><text class="o" x="577" y="75">1</text><text class="o" x="607" y="75">1</text><text class="o" x="556" y="116">1</text>
<text class="o" x="494" y="178">1</text><text class="o" x="494" y="276">1</text><text class="o" x="494" y="373">1</text><text class="o" x="494" y="466">1</text>
<text class="o" x="655" y="178">1</text><text class="o" x="655" y="276">1</text><text class="o" x="655" y="373">1</text><text class="o" x="655" y="466">1</text>
<text class="o" x="441" y="168">1</text><text class="o" x="441" y="196">1</text><text class="o" x="441" y="224">1</text><text class="o" x="441" y="266">1</text><text class="o" x="441" y="294">1</text><text class="o" x="441" y="322">1</text><text class="o" x="441" y="363">1</text><text class="o" x="441" y="391">1</text><text class="o" x="441" y="419">1</text><text class="o" x="441" y="456">1</text><text class="o" x="441" y="484">1</text><text class="o" x="441" y="512">1</text>
<text class="o" x="705" y="168">1</text><text class="o" x="705" y="196">1</text><text class="o" x="705" y="224">1</text><text class="o" x="705" y="266">1</text><text class="o" x="705" y="294">1</text><text class="o" x="705" y="322">1</text><text class="o" x="705" y="363">1</text><text class="o" x="705" y="391">1</text><text class="o" x="705" y="419">1</text><text class="o" x="705" y="456">1</text><text class="o" x="705" y="484">1</text><text class="o" x="705" y="512">1</text>
</g>
<g id="m2-labels">
<text class="o" x="267" y="708">1</text><text class="o" x="119" y="922">1</text>
<text class="o" x="48" y="569">1</text><text class="o" x="48" y="601.5">1</text><text class="o" x="48" y="634">1</text><text class="o" x="48" y="666.5">1</text><text class="o" x="48" y="699">1</text><text class="o" x="48" y="731.5">1</text><text class="o" x="48" y="764">1</text><text class="o" x="48" y="796.5">1</text><text class="o" x="48" y="829">1</text><text class="o" x="48" y="861.5">1</text><text class="o" x="48" y="894">1</text><text class="o" x="48" y="926.5">1</text><text class="o" x="48" y="959">1</text><text class="o" x="48" y="991.5">1</text><text class="o" x="48" y="1024">1</text>
<text class="o" x="344" y="619">1</text><text class="o" x="344" y="651.6">1</text><text class="o" x="344" y="684.2">1</text><text class="o" x="344" y="716.8">1</text><text class="o" x="344" y="749.4">1</text><text class="o" x="344" y="782">1</text><text class="o" x="344" y="814.6">1</text><text class="o" x="344" y="847.2">1</text><text class="o" x="344" y="879.8">1</text><text class="o" x="344" y="912.4">1</text><text class="o" x="344" y="945">1</text><text class="o" x="344" y="977.6">1</text>
</g>
<g id="m92-labels">
<text class="o" x="547" y="590">1</text><text class="o" x="577" y="590">1</text><text class="o" x="607" y="590">1</text><text class="o" x="556" y="631">1</text><text class="o" x="601" y="643">1</text>
<text class="o" x="569" y="709">1</text><text class="o" x="598" y="873">1</text>
<text class="o" x="528" y="682">1</text><text class="o" x="636" y="682">1</text><text class="o" x="528" y="782">1</text><text class="o" x="636" y="782">1</text><text class="o" x="528" y="876">1</text><text class="o" x="636" y="876">1</text><text class="o" x="528" y="967">1</text><text class="o" x="636" y="967">1</text>
<text class="o" x="495" y="691">1</text><text class="o" x="495" y="791">1</text><text class="o" x="495" y="886">1</text><text class="o" x="495" y="980">1</text>
<text class="o" x="657" y="691">1</text><text class="o" x="657" y="791">1</text><text class="o" x="657" y="886">1</text><text class="o" x="657" y="980">1</text>
<text class="o" x="441" y="681">1</text><text class="o" x="441" y="709">1</text><text class="o" x="441" y="737">1</text><text class="o" x="441" y="781">1</text><text class="o" x="441" y="809">1</text><text class="o" x="441" y="837">1</text><text class="o" x="441" y="876">1</text><text class="o" x="441" y="904">1</text><text class="o" x="441" y="932">1</text><text class="o" x="441" y="970">1</text><text class="o" x="441" y="998">1</text><text class="o" x="441" y="1026">1</text>
<text class="o" x="705" y="681">1</text><text class="o" x="705" y="709">1</text><text class="o" x="705" y="737">1</text><text class="o" x="705" y="781">1</text><text class="o" x="705" y="809">1</text><text class="o" x="705" y="837">1</text><text class="o" x="705" y="876">1</text><text class="o" x="705" y="904">1</text><text class="o" x="705" y="932">1</text><text class="o" x="705" y="970">1</text><text class="o" x="705" y="998">1</text><text class="o" x="705" y="1026">1</text>
</g>
</g>
</svg>
